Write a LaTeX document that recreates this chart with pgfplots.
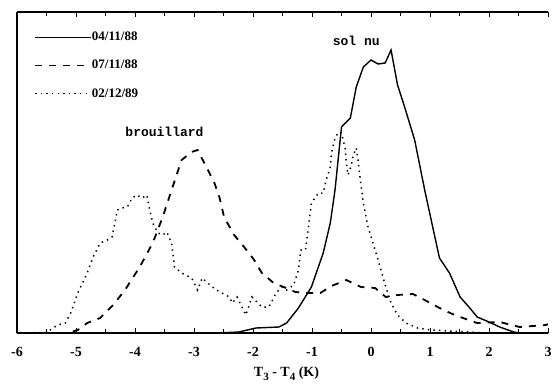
\documentclass[border=0pt]{standalone}
\usepackage{pgfplots}
\pgfplotsset{compat=1.18}
\usepackage{fontspec}
\setmainfont{Liberation Serif}
\newfontfamily\monob{Liberation Mono}
\begin{document}
\begin{tikzpicture}
\begin{axis}[
  scale only axis, width=531pt, height=321pt,
  xmin=-6, xmax=3, ymin=0, ymax=321,
  axis x line=box, axis y line=left,
  axis line style={-, line width=1.2pt},
  ytick=\empty,
  xtick={-6,-5,-4,-3,-2,-1,0,1,2,3},
  xticklabels={-6,-5,-4,-3,-2,-1,0,1,2,3},
  minor xtick={-5.5,-4.5,-3.5,-2.5,-1.5,-0.5,0.5,1.5,2.5},
  tick align=inside, major tick length=5pt, minor tick length=4pt,
  tick style={line width=0.9pt, black},
  xticklabel style={font=\bfseries\fontsize{14}{14}\selectfont, yshift=-11pt},
  xlabel={\bfseries\fontsize{14}{14}\selectfont T\raisebox{-4pt}{\fontsize{11}{11}\selectfont 3} - T\raisebox{-4pt}{\fontsize{11}{11}\selectfont 4} (K)},
  xlabel style={yshift=-3pt, xshift=4pt},
  legend cell align=left,
  legend image code/.code={\draw[#1] (0pt,0pt) -- (56pt,0pt);},
  legend style={draw=none, fill=none, inner sep=0pt, at={(axis description cs:0,1)}, anchor=north west,
    xshift=17pt, yshift=-20pt, font=\bfseries\fontsize{13}{13}\selectfont, row sep=18pt,
    nodes={inner sep=0pt},
    /tikz/every even column/.append style={column sep=9pt}},
]
\addplot[black, line width=1.4pt] coordinates {
(-6,0) (-2.6,0) (-2.24,1) (-1.95,5) (-1.56,6) (-1.43,10) (-1.23,25) (-1.01,46) (-0.81,80)
(-0.69,110) (-0.61,143) (-0.50,206) (-0.35,215) (-0.25,246) (-0.13,266) (0,273) (0.12,269)
(0.24,270) (0.34,283) (0.45,248) (0.57,226) (0.74,193) (0.91,143) (1.16,75) (1.33,60)
(1.51,36) (1.66,26) (1.8,16) (2.0,11) (2.18,6) (2.42,1) (2.52,0) (3,0)
};
\addlegendentry{04/11/88}
\addplot[black, line width=1.8pt, dash pattern=on 7pt off 7pt] coordinates {
(-6,0) (-5.3,0) (-5.14,0) (-4.97,3) (-4.81,10) (-4.59,15) (-4.37,28) (-4.17,43) (-3.92,66)
(-3.70,90) (-3.53,116) (-3.38,143) (-3.21,173) (-3.04,181) (-2.94,183) (-2.79,166) (-2.66,151)
(-2.57,136) (-2.49,116) (-2.32,98) (-2.15,86) (-1.98,73) (-1.85,60) (-1.65,50) (-1.48,46)
(-1.28,41) (-1.09,40) (-0.86,40) (-0.67,47) (-0.42,53) (-0.17,46) (0.07,45) (0.25,36)
(0.45,38) (0.71,39) (0.91,33) (1.13,26) (1.34,20) (1.51,16) (1.80,10) (2.18,11) (2.52,6)
(2.97,8) (3.0,9)
};
\addlegendentry{07/11/88}
\addplot[black, line width=1.5pt, dash pattern=on 1.4pt off 4.2pt] coordinates {
(-6,0) (-5.5,0.5) (-5.31,8) (-5.18,10) (-5.09,20) (-4.97,40) (-4.81,60) (-4.71,76) (-4.59,90)
(-4.47,93) (-4.39,96) (-4.34,110) (-4.30,123) (-4.22,125) (-4.13,126) (-4.05,135) (-3.97,138)
(-3.88,135) (-3.80,138) (-3.75,123) (-3.70,110) (-3.61,100) (-3.53,98) (-3.46,101) (-3.38,90)
(-3.33,66) (-3.21,60) (-3.04,55) (-2.94,43) (-2.86,55) (-2.77,50) (-2.62,43) (-2.40,36)
(-2.35,30) (-2.27,36) (-2.12,18) (-2.02,36) (-1.85,26) (-1.73,26) (-1.61,40) (-1.51,46)
(-1.43,43) (-1.31,48) (-1.23,63) (-1.19,83) (-1.11,83) (-1.06,106) (-1.01,130) (-0.89,140)
(-0.81,140) (-0.76,153) (-0.69,166) (-0.67,180) (-0.61,195) (-0.55,201) (-0.50,200) (-0.44,185)
(-0.42,171) (-0.39,158) (-0.34,166) (-0.30,178) (-0.25,185) (-0.22,173) (-0.18,153) (-0.13,130)
(-0.05,106) (0.07,83) (0.17,63) (0.25,46) (0.34,30) (0.45,18) (0.59,10) (0.79,5) (1.01,3)
(1.34,2) (1.97,0) (3,0)
};
\addlegendentry{02/12/89}
\node[font=\monob\bfseries\fontsize{13}{13}\selectfont] at (axis cs:-3.50,201) {brouillard};
\node[font=\monob\bfseries\fontsize{13}{13}\selectfont] at (axis cs:-0.25,292) {sol nu};
\end{axis}
\pgfresetboundingbox
\useasboundingbox ([xshift=-17pt,yshift=-53pt]current axis.south west) rectangle ([xshift=6pt,yshift=12pt]current axis.north east);
\end{tikzpicture}
\end{document}
